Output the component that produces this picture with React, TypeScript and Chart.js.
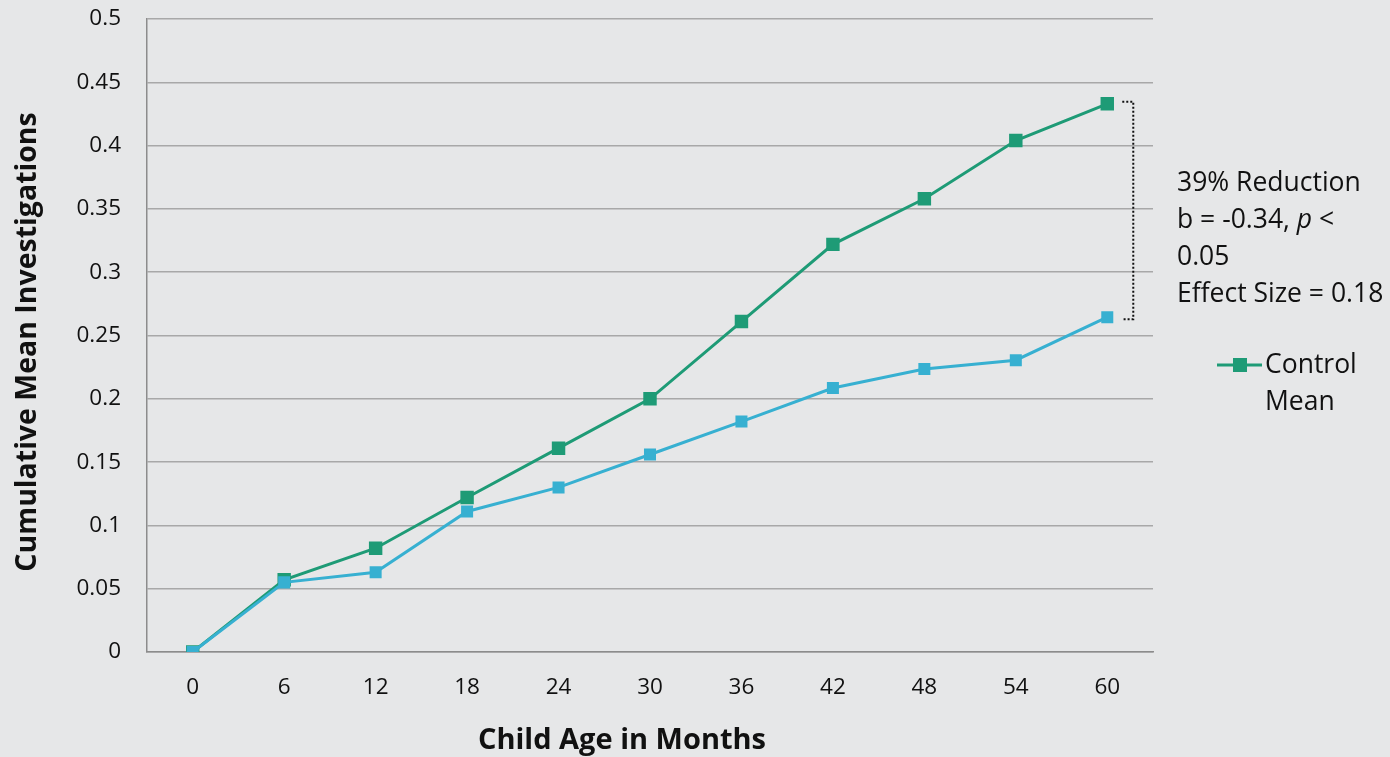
import React, { useEffect, useRef } from "react";
import { Chart, registerables } from "chart.js";

Chart.register(...registerables);

const ageLabels = ["0", "6", "12", "18", "24", "30", "36", "42", "48", "54", "60"];
const controlMean = [0, 0.057, 0.082, 0.122, 0.161, 0.2, 0.261, 0.322, 0.358, 0.404, 0.433];
const treatmentMean = [0, 0.055, 0.063, 0.111, 0.13, 0.156, 0.182, 0.2085, 0.2235, 0.2305, 0.2645];
const yTickLabels = ["0", "0.05", "0.1", "0.15", "0.2", "0.25", "0.3", "0.35", "0.4", "0.45", "0.5"];
const annotationLines = ["39% Reduction", "b = -0.34, |p| <", "0.05", "Effect Size = 0.18"];
const legendLabel = ["Control", "Mean"];
const xTitle = "Child Age in Months";
const yTitle = "Cumulative Mean Investigations";

const GREEN = "#1e9b76";
const BLUE = "#37b0d1";
const BG = "#e6e7e8";
const FONT = "'Open Sans', sans-serif";

const overlayPlugin = {
  id: "overlay",
  beforeDraw(chart: any) {
    const { ctx, width, height } = chart;
    ctx.save();
    ctx.fillStyle = BG;
    ctx.fillRect(0, 0, width, height);
    ctx.restore();
  },
  afterDraw(chart: any) {
    const { ctx } = chart;
    const xs = chart.scales.x;
    const ys = chart.scales.y;
    const last = ageLabels.length - 1;
    const px = xs.getPixelForValue(last);
    const yTop = ys.getPixelForValue(controlMean[last]);
    const yBot = ys.getPixelForValue(treatmentMean[last]);
    // bracket
    ctx.save();
    ctx.strokeStyle = "#111";
    ctx.lineWidth = 2;
    ctx.setLineDash([2, 2]);
    ctx.beginPath();
    ctx.moveTo(px + 15, yTop - 2);
    ctx.lineTo(px + 26, yTop - 2);
    ctx.lineTo(px + 26, yBot + 2);
    ctx.lineTo(px + 15, yBot + 2);
    ctx.stroke();
    ctx.restore();

    // x axis title (centred under the whole figure, as in the original)
    ctx.save();
    ctx.fillStyle = "#111";
    ctx.font = "bold 29px " + FONT;
    ctx.textAlign = "center";
    ctx.textBaseline = "middle";
    ctx.fillText(xTitle, 622, 741);
    // y axis title
    ctx.translate(28, 342);
    ctx.rotate(-Math.PI / 2);
    ctx.font = "bold 28.5px " + FONT;
    ctx.fillText(yTitle, 0, 0);
    ctx.restore();

    // annotation text
    ctx.save();
    ctx.fillStyle = "#111";
    ctx.textBaseline = "middle";
    ctx.textAlign = "left";
    const tx = chart.chartArea.right + 24;
    let ty = 183;
    for (const line of annotationLines) {
      const parts = line.split("|");
      let x = tx;
      parts.forEach((p, i) => {
        ctx.font = (i % 2 === 1 ? "italic " : "") + "26.5px " + FONT;
        ctx.fillText(p, x, ty);
        x += ctx.measureText(p).width;
      });
      ty += 37;
    }
    ctx.restore();

    // legend
    ctx.save();
    const ly = 365;
    ctx.strokeStyle = GREEN;
    ctx.lineWidth = 3;
    ctx.beginPath();
    ctx.moveTo(1217, ly);
    ctx.lineTo(1262, ly);
    ctx.stroke();
    ctx.fillStyle = GREEN;
    ctx.fillRect(1240 - 7, ly - 7, 14, 14);
    ctx.fillStyle = "#111";
    ctx.font = "26.5px " + FONT;
    ctx.textBaseline = "middle";
    ctx.fillText(legendLabel[0], 1265, ly);
    ctx.fillText(legendLabel[1], 1265, ly + 37);
    ctx.restore();
  },
};

export default function App() {
  const ref = useRef<HTMLCanvasElement>(null);
  useEffect(() => {
    document.body.style.margin = "0";
    const chart = new Chart(ref.current!, {
      type: "line",
      data: {
        labels: ageLabels,
        datasets: [
          {
            label: "Treatment Mean",
            data: treatmentMean,
            borderColor: BLUE,
            backgroundColor: BLUE,
            borderWidth: 3,
            pointStyle: "rect",
            pointRadius: 8.5,
            pointBorderWidth: 0,
            tension: 0,
          },
          {
            label: "Control Mean",
            data: controlMean,
            borderColor: GREEN,
            backgroundColor: GREEN,
            borderWidth: 3,
            pointStyle: "rect",
            pointRadius: 9.5,
            pointBorderWidth: 0,
            tension: 0,
          },
        ],
      },
      options: {
        animation: false,
        responsive: true,
        maintainAspectRatio: false,
        layout: { padding: { top: 0, right: 237, left: 0, bottom: 0 } },
        plugins: { legend: { display: false }, tooltip: { enabled: false } },
        scales: {
          x: {
            type: "category",
            offset: true,
            grid: { display: false, drawTicks: false },
            border: { display: true, color: "#8c8c8c", width: 1.5 },
            ticks: { color: "#111", font: { family: FONT, size: 22.5 }, padding: 22 },
            title: { display: false, text: xTitle },
            afterFit: (s: any) => {
              s.height = 105;
            },
          },
          y: {
            min: 0,
            max: 0.5,
            ticks: {
              stepSize: 0.05,
              color: "#111",
              font: { family: FONT, size: 22.5 },
              padding: 26,
              callback: (_v: any, i: number) => yTickLabels[i],
            },
            grid: { color: "#a8a8a8", lineWidth: 1.5, drawTicks: false },
            border: { display: true, color: "#8c8c8c", width: 1.5 },
            title: { display: false, text: yTitle },
            afterFit: (s: any) => {
              s.width = 147;
              s.paddingTop = 19;
              s.paddingBottom = 0;
            },
          },
        },
      },
      plugins: [overlayPlugin],
    });
    return () => chart.destroy();
  }, []);
  return (
    <div style={{ width: 1390, height: 757, position: "relative", background: BG }}>
      <canvas ref={ref} />
    </div>
  );
}
